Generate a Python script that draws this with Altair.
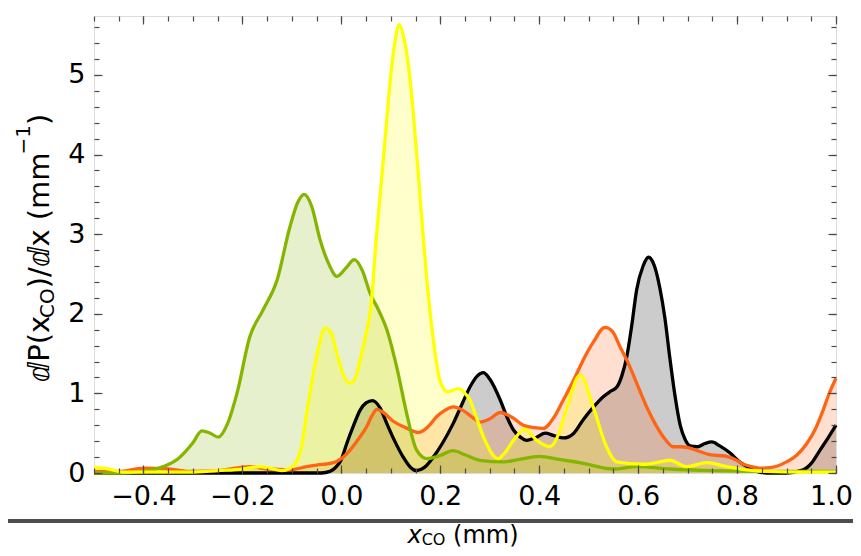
import altair as alt
import pandas as pd

# ---------------- data ----------------
GREEN_X = [-0.5, -0.45, -0.40, -0.36, -0.33, -0.30, -0.282, -0.265, -0.249, -0.23, -0.211, -0.185,
           -0.158, -0.13, -0.104, -0.088, -0.075, -0.06, -0.043, -0.025, -0.009, 0.01, 0.026, 0.042,
           0.058, 0.075, 0.092, 0.112, 0.132, 0.152, 0.173, 0.2, 0.226, 0.25, 0.28, 0.328, 0.36, 0.40,
           0.44, 0.482, 0.55, 0.597, 0.664, 0.75, 0.85, 1.0]
GREEN_Y = [0.0, 0.0, 0.02, 0.08, 0.18, 0.38, 0.53, 0.50, 0.45, 0.62, 1.0, 1.71,
           2.05, 2.42, 3.09, 3.40, 3.50, 3.35, 2.93, 2.62, 2.47, 2.58, 2.68, 2.55,
           2.26, 2.05, 1.80, 1.33, 0.75, 0.29, 0.18, 0.22, 0.28, 0.23, 0.16, 0.14, 0.17, 0.21,
           0.17, 0.13, 0.05, 0.08, 0.05, 0.03, 0.02, 0.02]

YELLOW_X = [-0.5, -0.47, -0.44, -0.40, -0.35, -0.306, -0.25, -0.2, -0.165, -0.145, -0.12, -0.104,
            -0.09, -0.08, -0.07, -0.05, -0.033, -0.02, -0.009, 0.005, 0.018, 0.03, 0.041, 0.05,
            0.06, 0.07, 0.08, 0.09, 0.10, 0.108, 0.117, 0.127, 0.138, 0.146, 0.156, 0.165, 0.173,
            0.186, 0.2, 0.215, 0.237, 0.25, 0.26, 0.273, 0.287, 0.317, 0.33, 0.348, 0.371, 0.395,
            0.422, 0.44, 0.456, 0.483, 0.509, 0.536, 0.557, 0.61, 0.644, 0.664, 0.698, 0.739,
            0.779, 0.82, 0.86, 0.92, 1.0]
YELLOW_Y = [0.07, 0.05, 0.01, 0.01, 0.01, 0.01, 0.03, 0.05, 0.08, 0.06, 0.03, 0.06,
            0.15, 0.35, 0.75, 1.46, 1.82, 1.75, 1.50, 1.22, 1.13, 1.22, 1.50, 1.75,
            2.1, 2.9, 3.6, 4.3, 5.0, 5.4, 5.63, 5.45, 5.0, 4.48, 3.73, 3.0, 2.42,
            1.67, 1.15, 1.02, 1.06, 1.0, 0.92, 0.7, 0.46, 0.18, 0.25, 0.41, 0.55, 0.41,
            0.33, 0.5, 0.83, 1.23, 0.83, 0.33, 0.14, 0.11, 0.14, 0.16, 0.08, 0.13,
            0.08, 0.04, 0.02, 0.01, 0.01]

BLACK_X = [-0.5, -0.1, -0.04, -0.023, -0.01, 0.0, 0.011, 0.025, 0.038, 0.05, 0.063, 0.078,
           0.092, 0.108, 0.125, 0.14, 0.152, 0.168, 0.186, 0.205, 0.226, 0.245, 0.26, 0.275,
           0.287, 0.30, 0.321, 0.335, 0.348, 0.362, 0.375, 0.395, 0.412, 0.43, 0.449, 0.47,
           0.489, 0.51, 0.53, 0.545, 0.557, 0.567, 0.577, 0.587, 0.597, 0.61, 0.621, 0.633,
           0.644, 0.654, 0.664, 0.675, 0.685, 0.695, 0.705, 0.72, 0.735, 0.749, 0.765, 0.786,
           0.803, 0.82, 0.84, 0.86, 0.9, 0.934, 0.95, 0.968, 0.985, 1.0]
BLACK_Y = [0.0, 0.0, 0.0, 0.02, 0.08, 0.17, 0.37, 0.6, 0.79, 0.88, 0.91, 0.82,
           0.62, 0.4, 0.2, 0.07, 0.03, 0.07, 0.2, 0.38, 0.62, 0.88, 1.08, 1.22,
           1.26, 1.18, 0.92, 0.7, 0.54, 0.45, 0.41, 0.45, 0.50, 0.47, 0.44, 0.5,
           0.67, 0.83, 0.96, 1.03, 1.08, 1.22, 1.46, 1.85, 2.30, 2.6, 2.71, 2.6,
           2.32, 1.95, 1.45, 0.95, 0.6, 0.42, 0.34, 0.33, 0.37, 0.39, 0.34, 0.25,
           0.15, 0.08, 0.02, 0.0, 0.0, 0.04, 0.12, 0.29, 0.45, 0.6]

ORANGE_X = [-0.5, -0.45, -0.40, -0.35, -0.306, -0.25, -0.185, -0.15, -0.104, -0.07, -0.05, -0.016,
            0.0, 0.018, 0.035, 0.051, 0.062, 0.072, 0.085, 0.105, 0.13, 0.156, 0.175, 0.193,
            0.21, 0.226, 0.245, 0.267, 0.28, 0.30, 0.321, 0.345, 0.368, 0.39, 0.408, 0.43,
            0.449, 0.47, 0.489, 0.51, 0.533, 0.548, 0.563, 0.58, 0.597, 0.618, 0.638, 0.655,
            0.671, 0.686, 0.701, 0.72, 0.745, 0.779, 0.796, 0.813, 0.83, 0.846, 0.87, 0.90,
            0.92, 0.941, 0.958, 0.974, 0.985, 1.0]
ORANGE_Y = [0.02, 0.02, 0.06, 0.05, 0.02, 0.03, 0.08, 0.05, 0.04, 0.08, 0.1, 0.13,
            0.18, 0.29, 0.43, 0.58, 0.72, 0.80, 0.76, 0.65, 0.57, 0.51, 0.58, 0.71,
            0.79, 0.83, 0.79, 0.69, 0.64, 0.68, 0.76, 0.70, 0.60, 0.57, 0.56, 0.7,
            0.92, 1.17, 1.42, 1.65, 1.83, 1.78, 1.59, 1.38, 1.13, 0.82, 0.58, 0.42,
            0.33, 0.33, 0.32, 0.28, 0.23, 0.21, 0.17, 0.11, 0.08, 0.06, 0.07, 0.14,
            0.22, 0.37, 0.55, 0.79, 0.98, 1.19]

SERIES = [
    ("black", BLACK_X, BLACK_Y, "#000000"),
    ("orange", ORANGE_X, ORANGE_Y, "#FF6414"),
    ("green", GREEN_X, GREEN_Y, "#85B500"),
    ("yellow", YELLOW_X, YELLOW_Y, "#FFFF00"),
]

X_MAJOR = [-0.4, -0.2, 0.0, 0.2, 0.4, 0.6, 0.8, 1.0]
X_MINOR = [-0.5, -0.45, -0.4, -0.35, -0.3, -0.25, -0.2, -0.15, -0.1, -0.05, 0.0, 0.05, 0.1,
           0.15, 0.2, 0.25, 0.3, 0.35, 0.4, 0.45, 0.5, 0.55, 0.6, 0.65, 0.7, 0.75, 0.8, 0.85,
           0.9, 0.95, 1.0]
Y_MAJOR = [0, 1, 2, 3, 4, 5]
Y_MINOR = [0, 0.2, 0.4, 0.6, 0.8, 1.0, 1.2, 1.4, 1.6, 1.8, 2.0, 2.2, 2.4, 2.6, 2.8, 3.0, 3.2,
           3.4, 3.6, 3.8, 4.0, 4.2, 4.4, 4.6, 4.8, 5.0, 5.2, 5.4, 5.6]

# ---------------- layout / style ----------------
W, H = 742, 457
PAD = {"left": 86, "top": 8, "right": 17, "bottom": 75}
FONT = "DejaVu Sans"
TICK_COLOR = "#4a4a4a"
X_SCALE = alt.Scale(domain=[-0.5, 1.0], nice=False, zero=False)
Y_SCALE = alt.Scale(domain=[0, 5.74], nice=False, zero=False)
ONE = pd.DataFrame({"x": [0.0], "y": [0.0]})

layers = []

# fills first
for name, xs, ys, col in SERIES:
    d = pd.DataFrame({"x": xs, "y": ys})
    layers.append(
        alt.Chart(d).mark_area(color=col, fillOpacity=0.2, interpolate="monotone").encode(
            x=alt.X("x:Q", scale=X_SCALE, axis=None),
            y=alt.Y("y:Q", scale=Y_SCALE, stack=None, axis=None),
        )
    )
# then lines
for name, xs, ys, col in SERIES:
    d = pd.DataFrame({"x": xs, "y": ys})
    layers.append(
        alt.Chart(d).mark_line(color=col, strokeWidth=3.3, interpolate="monotone").encode(
            x=alt.X("x:Q", scale=X_SCALE, axis=None),
            y=alt.Y("y:Q", scale=Y_SCALE, axis=None),
        )
    )


def x_axis_layer(axis):
    return alt.Chart(ONE).mark_point(opacity=0).encode(x=alt.X("x:Q", scale=X_SCALE, axis=axis))


def y_axis_layer(axis):
    return alt.Chart(ONE).mark_point(opacity=0).encode(y=alt.Y("y:Q", scale=Y_SCALE, axis=axis))


def tick_axis(orient, values, size):
    return alt.Axis(orient=orient, values=values, labels=False, domain=False, grid=False,
                    ticks=True, tickSize=alt.ExprRef(expr=str(-size)), tickColor=TICK_COLOR,
                    tickWidth=1.2, title=None, zindex=1)


# labelled axes (the last x label is nudged so that it stays inside the page)
layers.append(x_axis_layer(alt.Axis(orient="bottom", values=X_MAJOR, format=".1f", ticks=False,
                                    tickSize=0, domain=False, grid=False, labelFlush=False,
                                    labelOverlap=False, labelFont=FONT, labelFontSize=27,
                                    labelColor="black", labelPadding=10, title=None,
                                    labelOffset={"condition": {"test": "datum.value >= 0.99",
                                                               "value": -5}, "value": 0})))
layers.append(y_axis_layer(alt.Axis(orient="left", values=Y_MAJOR, format="d", ticks=False,
                                    tickSize=0, domain=False, grid=False, labelFlush=False,
                                    labelOverlap=False, labelFont=FONT, labelFontSize=27,
                                    labelColor="black", labelPadding=9, title=None)))
# inward ticks on all four sides
for orient in ["bottom", "top"]:
    layers.append(x_axis_layer(tick_axis(orient, X_MAJOR, 8)))
    layers.append(x_axis_layer(tick_axis(orient, X_MINOR, 5)))
for orient in ["left", "right"]:
    layers.append(y_axis_layer(tick_axis(orient, Y_MAJOR, 8)))
    layers.append(y_axis_layer(tick_axis(orient, Y_MINOR, 5)))


def txt(text, x, y, size, angle=0, style="normal"):
    return alt.Chart(ONE).mark_text(text=text, font=FONT, fontSize=size, fontStyle=style,
                                    angle=angle, align="left", baseline="alphabetic",
                                    color="black").encode(x=alt.value(x), y=alt.value(y))


# y-axis title (rotated, reads bottom to top)
MAIN, SUB = 29, 20
layers += [
    txt("ⅆP(x", -44.7, 366.3, MAIN, 270),
    txt("CO", -40.0, 301.9, SUB, 270),
    txt(")/ⅆx (mm", -44.7, 272.2, MAIN, 270),
    txt("−1", -64.0, 138.5, SUB, 270),
    txt(")", -44.7, 109.0, MAIN, 270),
]
# x-axis title (kept just below the grey separator, inside the page)
XT_MAIN, XT_SUB = 24, 16
layers += [
    txt("x", 313.5, 526.5, XT_MAIN, 0, "italic"),
    txt("CO", 327.7, 528.5, XT_SUB, 0),
    txt("(mm)", 359.1, 526.5, XT_MAIN, 0),
]
# thick grey separator line across the figure
layers.append(
    alt.Chart(ONE).mark_rule(color="#4d4d4d", strokeWidth=4).encode(
        x=alt.value(-PAD["left"]), x2=alt.value(W + PAD["right"]), y=alt.value(505)
    )
)

chart = (
    alt.layer(*layers)
    .resolve_axis(x="independent", y="independent")
    .properties(width=W, height=H, autosize=alt.AutoSizeParams(type="none"), padding=PAD)
    .configure_view(stroke="#707070", strokeWidth=1.5)
    .configure(background="white")
)

chart.save("out.html", embed_options={"renderer": "svg", "actions": False})
